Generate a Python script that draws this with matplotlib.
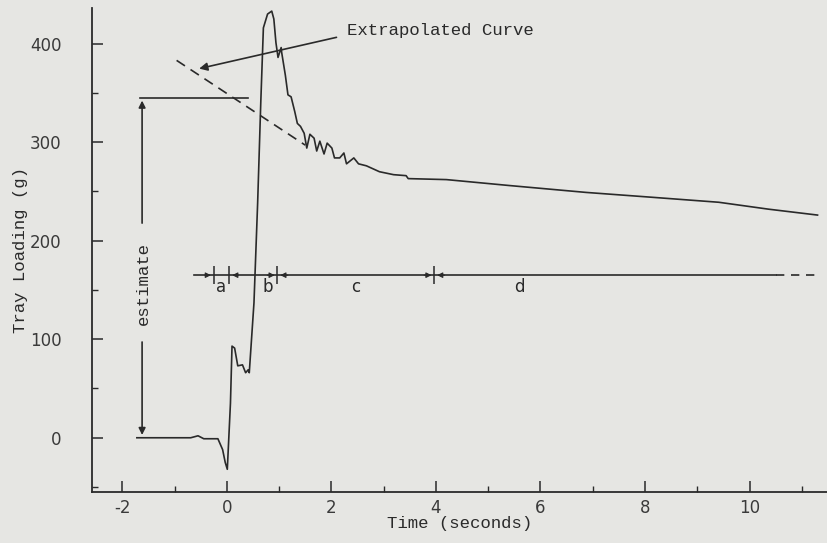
import matplotlib
matplotlib.use("Agg")
import matplotlib.pyplot as plt
from matplotlib.ticker import MultipleLocator

plt.rcParams["axes.unicode_minus"] = False

# tray loading trace
time_s = [-1.72, -1.2, -0.69, -0.55, -0.44, -0.17, -0.08, -0.03, 0.01, 0.07,
          0.10, 0.15, 0.21, 0.30, 0.36, 0.41, 0.43, 0.52, 0.59, 0.65,
          0.70, 0.78, 0.86, 0.90, 0.94, 0.98, 1.04, 1.05, 1.12, 1.17,
          1.23, 1.30, 1.35, 1.41, 1.48, 1.53, 1.59, 1.67, 1.72, 1.78,
          1.86, 1.92, 2.01, 2.06, 2.16, 2.24, 2.29, 2.43, 2.52, 2.67,
          2.92, 3.19, 3.43, 3.47, 4.20, 5.40, 6.87, 8.15, 9.41, 10.36, 11.30]
load_g = [0, 0, 0, 2, -1, -1, -12, -25, -32, 35,
          93, 91, 73, 74, 66, 69, 66, 137, 238, 340,
          416, 430, 433, 425, 401, 386, 396, 391, 368, 348,
          346, 331, 319, 316, 309, 294, 308, 304, 291, 301,
          288, 299, 294, 284, 284, 289, 278, 284, 278, 276,
          270, 267, 266, 263, 262, 256, 249, 244, 239, 232, 226]

# dashed extrapolation back to the start
extrap_t = [-0.96, 1.50]
extrap_g = [383, 297]

estimate_level = 345
segment_edges = [-0.25, 0.05, 0.97, 3.97]
segment_names = ["a", "b", "c", "d"]
segment_level = 165

ink = "#2a2a2a"
paper = "#e6e6e3"
mono = "Liberation Mono"

fig = plt.figure(figsize=(8.28, 5.43), dpi=100, facecolor=paper)
ax = fig.add_axes([0.111, 0.094, 0.889, 0.891], facecolor=paper)

ax.plot(time_s, load_g, color=ink, lw=1.2)
ax.plot(extrap_t, extrap_g, color=ink, lw=1.2, dashes=(6, 4))

# "estimate" dimension arrow
ax.plot([-1.66, 0.40], [estimate_level, estimate_level], color=ink, lw=1.2)
ax.annotate("", xy=(-1.62, estimate_level), xytext=(-1.62, 215),
            arrowprops=dict(arrowstyle="-|>", color=ink, lw=1.2, mutation_scale=10))
ax.annotate("", xy=(-1.62, 0), xytext=(-1.62, 100),
            arrowprops=dict(arrowstyle="-|>", color=ink, lw=1.2, mutation_scale=10))
ax.text(-1.60, 157, "estimate", rotation=90, ha="center", va="center",
        family=mono, fontsize=12.5, color=ink)

# extrapolated curve label
ax.annotate("", xy=(-0.58, 374), xytext=(2.15, 407),
            arrowprops=dict(arrowstyle="-|>", color=ink, lw=1.2, mutation_scale=12))
ax.text(2.30, 413, "Extrapolated Curve", ha="left", va="center",
        family=mono, fontsize=12.5, color=ink)

# phase segments a-d
ax.plot([-0.62, 10.5], [segment_level, segment_level], color=ink, lw=1.2)
ax.plot([10.5, 11.3], [segment_level, segment_level], color=ink, lw=1.2, dashes=(5, 4))
ax.vlines(segment_edges, segment_level - 9, segment_level + 9, color=ink, lw=1.1)
arrow_kw = dict(arrowstyle="-|>", color=ink, lw=0.8, mutation_scale=8)
ax.annotate("", xy=(segment_edges[0], segment_level), xytext=(segment_edges[0] - 0.22, segment_level), arrowprops=arrow_kw)
ax.annotate("", xy=(segment_edges[1], segment_level), xytext=(segment_edges[1] + 0.22, segment_level), arrowprops=arrow_kw)
for edge in segment_edges[2:]:
    ax.annotate("", xy=(edge, segment_level), xytext=(edge - 0.25, segment_level), arrowprops=arrow_kw)
    ax.annotate("", xy=(edge, segment_level), xytext=(edge + 0.25, segment_level), arrowprops=arrow_kw)
label_x = [(segment_edges[0] + segment_edges[1]) / 2, 0.78,
           (segment_edges[2] + segment_edges[3]) / 2, 5.6]
for name, x in zip(segment_names, label_x):
    ax.text(x, segment_level - 12, name, ha="center", va="center",
            fontsize=12, color=ink)

ax.set_xlim(-2.58, 11.5)
ax.set_ylim(-55, 436)
ax.spines["top"].set_visible(False)
ax.spines["right"].set_visible(False)
for side in ("left", "bottom"):
    ax.spines[side].set_color(ink)
    ax.spines[side].set_linewidth(1.3)

ax.xaxis.set_major_locator(MultipleLocator(2))
ax.xaxis.set_minor_locator(MultipleLocator(1))
ax.yaxis.set_major_locator(MultipleLocator(100))
ax.yaxis.set_minor_locator(MultipleLocator(50))
ax.tick_params(which="major", direction="in", length=8, width=1.1, color=ink,
               labelsize=12, labelcolor="#3a3a3a")
ax.tick_params(which="minor", direction="in", length=4, width=1.0, color=ink)
ax.tick_params(axis="y", pad=22)
ax.tick_params(axis="x", pad=5)

ax.set_xlabel("Time (seconds)", family=mono, fontsize=12.5, color=ink, labelpad=-1)
ax.set_ylabel("Tray Loading (g)", family=mono, fontsize=12.5, color=ink, labelpad=1)

fig.savefig("out.png", dpi=100, facecolor=paper)
